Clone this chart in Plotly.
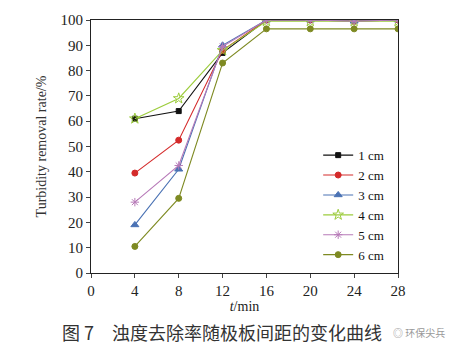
import plotly.graph_objects as go

t = [4, 8, 12, 16, 20, 24, 28]
s1 = [61, 64, 87, 100, 100, 100, 100]
s2 = [39.5, 52.5, 88, 100, 100, 99.5, 100]
s3 = [19, 41, 90, 100, 100, 99.5, 100]
s4 = [61, 69, 88, 99.5, 99.5, 99.5, 99.5]
s5 = [28, 42.5, 89.5, 100, 100, 99.5, 100]
s6 = [10.5, 29.5, 83, 96.5, 96.5, 96.5, 96.5]
names = ["1 cm", "2 cm", "3 cm", "4 cm", "5 cm", "6 cm"]
xticks = [0, 4, 8, 12, 16, 20, 24, 28]
yticks = [0, 10, 20, 30, 40, 50, 60, 70, 80, 90, 100]

styles = [
    dict(color="#111111", symbol="square", size=5),
    dict(color="#d42a2a", symbol="circle", size=6),
    dict(color="#4a72b4", symbol="triangle-up", size=7),
    dict(color="#9ccc3c", symbol="star-open", size=8),
    dict(color="#b77ab8", symbol="asterisk-open", size=7),
    dict(color="#7e8a22", symbol="circle", size=6),
]

fig = go.Figure()
for name, ys, st in zip(names, [s1, s2, s3, s4, s5, s6], styles):
    fig.add_trace(go.Scatter(
        x=t, y=ys, name=name, mode="lines+markers",
        line=dict(color=st["color"], width=1.1),
        marker=dict(symbol=st["symbol"], size=st["size"], color=st["color"],
                    line=dict(color=st["color"], width=1)),
    ))

font = "Liberation Serif, Times New Roman, serif"
fig.update_layout(
    width=466, height=354,
    margin=dict(l=91, r=68, t=17, b=81),
    paper_bgcolor="white", plot_bgcolor="white",
    font=dict(family=font, size=14, color="#222222"),
    showlegend=True,
    legend=dict(x=0.74, y=0.525, xanchor="left", yanchor="top",
                bgcolor="rgba(0,0,0,0)", font=dict(family=font, size=13, color="#111111"),
                tracegroupgap=0, itemwidth=30),
    xaxis=dict(range=[0, 28], tickvals=xticks, ticks="outside", ticklen=4,
               showline=True, linecolor="#222222", linewidth=1, mirror=True,
               showgrid=False, zeroline=False,
               tickfont=dict(family=font, size=15, color="#222222"),
               title=dict(text="<i>t</i>/min", font=dict(family=font, size=14, color="#222222"),
                          standoff=3)),
    yaxis=dict(range=[0, 100], tickvals=yticks, ticks="outside", ticklen=4,
               showline=True, linecolor="#222222", linewidth=1, mirror=True,
               showgrid=False, zeroline=False,
               tickfont=dict(family=font, size=15, color="#222222"),
               title=dict(text="Turbidity removal rate/%", font=dict(family=font, size=14, color="#333333"),
                          standoff=10)),
)

fig.add_annotation(text="图 7　浊度去除率随极板间距的变化曲线", xref="paper", yref="paper",
                   x=-0.101, y=-0.234, xanchor="left", yanchor="middle", showarrow=False,
                   font=dict(family="Noto Sans CJK SC", size=18, color="#333333"))
fig.add_annotation(text="◎ 环保尖兵", xref="paper", yref="paper",
                   x=1.16, y=-0.234, xanchor="right", yanchor="middle", showarrow=False,
                   font=dict(family="Noto Sans CJK SC", size=10, color="#999999"))

fig.write_html("out.html")
